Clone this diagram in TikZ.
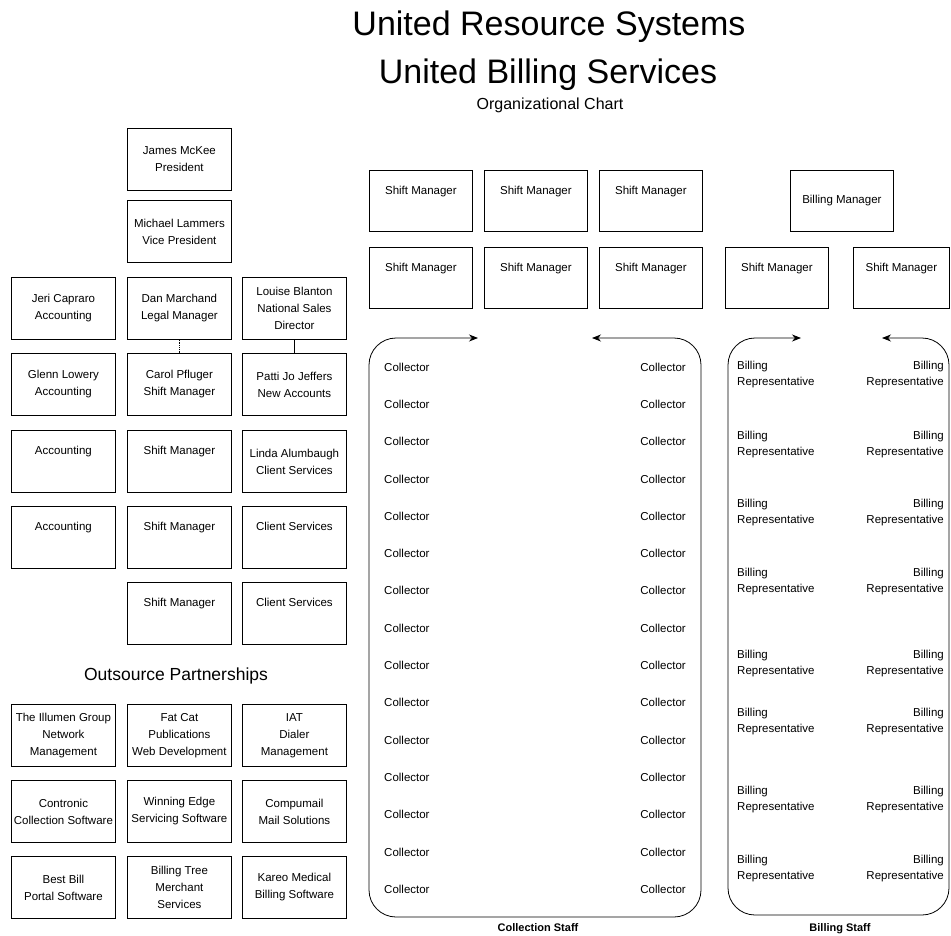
\documentclass[tikz,border=0pt]{standalone}
\usepackage{fontspec}
\setmainfont{Liberation Sans}
\usetikzlibrary{arrows.meta}
\newcommand{\padline}[1]{#1\\\strut}
\begin{document}
\begin{tikzpicture}[x=1pt,y=-1pt,>={Stealth[length=9pt,width=7pt]},
  box/.style={draw,line width=0.8pt,anchor=north west,minimum width=104pt,minimum height=62pt,inner sep=1pt,align=center,font=\fontsize{11.5}{17}\selectfont},
  midbox/.style={box,minimum width=103pt,minimum height=61pt},
  staff/.style={inner sep=0pt,font=\fontsize{11.5}{16}\selectfont},
  group/.style={line width=0.8pt,rounded corners=27pt}]
\useasboundingbox (0,0) rectangle (951,935);
% titles
\node[anchor=base,font=\fontsize{34}{40}\selectfont] (title1) at (549,35) {United Resource Systems};
\node[anchor=base,font=\fontsize{34}{40}\selectfont] (title2) at (548,83) {United Billing Services};
\node[anchor=base,font=\fontsize{16}{19}\selectfont] (subtitle) at (550,109) {Organizational Chart};
% management, left side
\node[box] (pres) at (127,128) {James McKee\\President};
\node[box] (vp) at (127,200) {Michael Lammers\\Vice President};
\node[box] (jeri) at (11,277) {Jeri Capraro\\Accounting};
\node[box] (dan) at (127,277) {Dan Marchand\\Legal Manager};
\node[box] (louise) at (242,277) {Louise Blanton\\National Sales\\Director};
\node[box] (glenn) at (11,353) {Glenn Lowery\\Accounting};
\node[box] (carol) at (127,353) {Carol Pfluger\\Shift Manager};
\node[box] (patti) at (242,353) {Patti Jo Jeffers\\New Accounts};
\node[box] (acc1) at (11,430) {\padline{Accounting}};
\node[box] (sm1) at (127,430) {\padline{Shift Manager}};
\node[box] (linda) at (242,430) {Linda Alumbaugh\\Client Services};
\node[box] (acc2) at (11,506) {\padline{Accounting}};
\node[box] (sm2) at (127,506) {\padline{Shift Manager}};
\node[box] (cs1) at (242,506) {\padline{Client Services}};
\node[box] (sm3) at (127,582) {\padline{Shift Manager}};
\node[box] (cs2) at (242,582) {\padline{Client Services}};
\draw[line width=0.8pt,densely dotted] (dan) -- (carol);
\draw[line width=0.8pt] (louise) -- (patti);
% outsource partners
\node[anchor=base,font=\fontsize{17.5}{21}\selectfont] (outsrc) at (176,680) {Outsource Partnerships};
\node[box] (illumen) at (11,704) {The Illumen Group\\Network\\Management};
\node[box] (fatcat) at (127,704) {Fat Cat\\Publications\\Web Development};
\node[box] (iat) at (242,704) {IAT\\Dialer\\Management};
\node[box] (contronic) at (11,780) {Contronic\\Collection Software};
\node[box] (winedge) at (127,780) {Winning Edge\\Servicing Software};
\node[box] (compumail) at (242,780) {Compumail\\Mail Solutions};
\node[box] (bestbill) at (11,856) {Best Bill\\Portal Software};
\node[box] (billtree) at (127,856) {Billing Tree\\Merchant\\Services};
\node[box] (kareo) at (242,856) {Kareo Medical\\Billing Software};
% collection shift managers
\foreach \x/\n in {369/a,484/b,599/c}{
  \node[midbox] (shiftt\n) at (\x,170) {\padline{Shift Manager}};
  \node[midbox] (shiftb\n) at (\x,247) {\padline{Shift Manager}};
}
% billing managers
\node[midbox] (billmgr) at (790,170) {Billing Manager};
\node[midbox] (billsmL) at (725,247) {\padline{Shift Manager}};
\node[midbox,minimum width=96pt] (billsmR) at (853,247) {\padline{Shift Manager}};
% collection staff
\draw[group,<->] (478,338) -- (369,338) -- (369,917) -- (701,917) -- (701,338) -- (592,338);
\foreach \k in {0,...,14}{
  \node[staff,anchor=west] (collL\k) at (384,{367+37.3*\k}) {Collector};
  \node[staff,anchor=east] (collR\k) at (686,{367+37.3*\k}) {Collector};
}
\node[anchor=base,font=\fontsize{11}{13}\bfseries] (collstaff) at (538,931) {Collection Staff};
% billing staff
\draw[group,<->] (801,338) -- (728,338) -- (728,915) -- (949,915) -- (949,338) -- (882,338);
\foreach \y [count=\k] in {375,445,513,582,664,722,800,869}{
  \node[staff,anchor=west,align=left] (repL\k) at (737,\y) {Billing\\Representative};
  \node[staff,anchor=east,align=right] (repR\k) at (944,\y) {Billing\\Representative};
}
\node[anchor=base,font=\fontsize{11}{13}\bfseries] (billstaff) at (840,931) {Billing Staff};
\end{tikzpicture}
\end{document}
